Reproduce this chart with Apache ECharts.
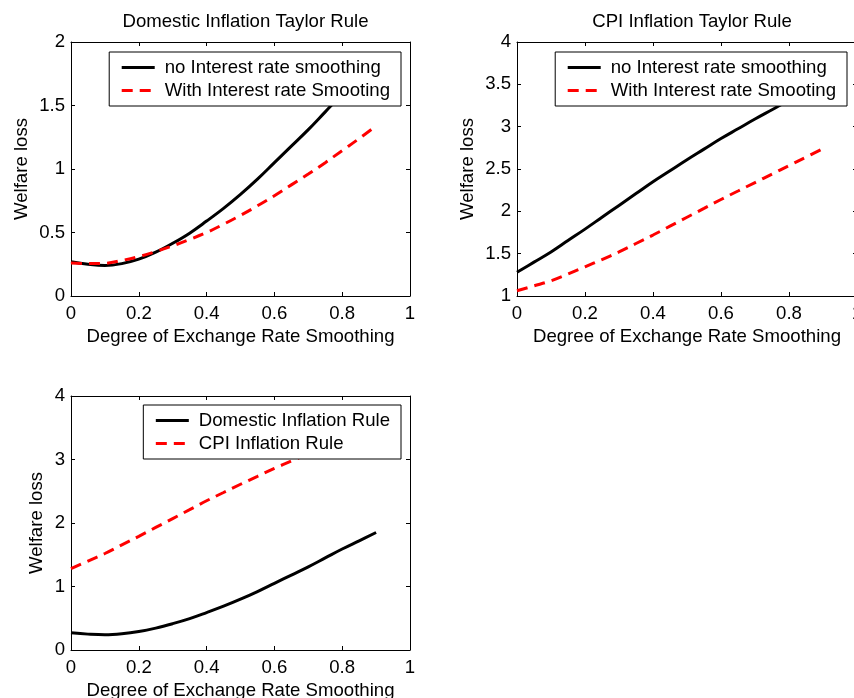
<!DOCTYPE html>
<html>
<head>
<meta charset="utf-8">
<script src="https://cdn.jsdelivr.net/npm/echarts@6/dist/echarts.min.js"></script>
<style>
html,body{margin:0;padding:0;background:#fff;}
#chart{width:854px;height:698px;}
</style>
</head>
<body>
<div id="chart"></div>
<script>
// ---- data ----
var xDegree = [0, 0.05, 0.1, 0.15, 0.2, 0.25, 0.3, 0.35, 0.4, 0.45, 0.5, 0.55, 0.6, 0.65, 0.7, 0.75, 0.8, 0.85, 0.9];
var domesticNoSmooth = [0.27, 0.25, 0.240, 0.255, 0.29, 0.345, 0.415, 0.495, 0.59, 0.69, 0.80, 0.92, 1.05, 1.18, 1.31, 1.45, 1.59, 1.72, 1.85];
var domesticSmooth   = [0.26, 0.255, 0.257, 0.28, 0.31, 0.35, 0.395, 0.445, 0.50, 0.565, 0.635, 0.71, 0.79, 0.875, 0.96, 1.05, 1.145, 1.24, 1.34];
var cpiNoSmooth      = [1.28, 1.40, 1.52, 1.655, 1.79, 1.93, 2.07, 2.21, 2.35, 2.48, 2.61, 2.735, 2.86, 2.975, 3.09, 3.20, 3.31, 3.415, 3.52];
var cpiSmooth        = [1.062, 1.12, 1.18, 1.26, 1.345, 1.43, 1.52, 1.62, 1.72, 1.825, 1.93, 2.035, 2.14, 2.24, 2.34, 2.44, 2.54, 2.64, 2.74];

var xTicks = [0, 0.2, 0.4, 0.6, 0.8, 1];
var yTicksDomestic = [0, 0.5, 1, 1.5, 2];
var yTicksCpi = [1, 1.5, 2, 2.5, 3, 3.5, 4];
var yTicksCompare = [0, 1, 2, 3, 4];

var titles = ['Domestic Inflation Taylor Rule', 'CPI Inflation Taylor Rule'];
var legendSmoothing = ['no Interest rate smoothing', 'With Interest rate Smooting'];
var legendCompare = ['Domestic Inflation Rule', 'CPI Inflation Rule'];
var xName = 'Degree of Exchange Rate Smoothing';
var yName = 'Welfare loss';

// ---- helpers ----
var FONT = "'Liberation Sans', Arial, Helvetica, sans-serif";
var FS = 18.6;
function pairs(xs, ys){ return xs.map(function(x,i){ return [x, ys[i]]; }); }
function tickRange(t){ return {min:t[0], max:t[t.length-1], interval:t[1]-t[0]}; }

var grids = [
  {left:71, top:42, width:339, height:254, containLabel:false, outerBoundsMode:'none'},
  {left:517, top:42, width:340, height:254, containLabel:false, outerBoundsMode:'none'},
  {left:71, top:396, width:339, height:254, containLabel:false, outerBoundsMode:'none'}
];
var yTickSets = [yTicksDomestic, yTicksCpi, yTicksCompare];
var yNameGaps = [40, 40, 25];

var xAxes = [], yAxes = [];
grids.forEach(function(g, i){
  var xr = tickRange(xTicks), yr = tickRange(yTickSets[i]);
  var common = {
    axisLine:{show:true, onZero:false, lineStyle:{color:'#000', width:1}},
    axisTick:{show:true, inside:true, length:4, lineStyle:{color:'#000', width:1}},
    splitLine:{show:false}
  };
  xAxes.push(Object.assign({
    type:'value', gridIndex:i, position:'bottom', min:xr.min, max:xr.max, interval:xr.interval,
    name:xName, nameLocation:'middle', nameGap:31,
    nameTextStyle:{fontSize:FS, color:'#000', fontFamily:FONT},
    axisLabel:{fontSize:FS, color:'#000', fontFamily:FONT, margin:8}
  }, common));
  xAxes.push(Object.assign({
    type:'value', gridIndex:i, position:'top', min:xr.min, max:xr.max, interval:xr.interval,
    axisLabel:{show:false}
  }, common));
  yAxes.push(Object.assign({
    type:'value', gridIndex:i, position:'left', min:yr.min, max:yr.max, interval:yr.interval,
    name:yName, nameLocation:'middle', nameGap:yNameGaps[i],
    nameTextStyle:{fontSize:FS, color:'#000', fontFamily:FONT},
    axisLabel:{fontSize:FS, color:'#000', fontFamily:FONT, margin:6}
  }, common));
  yAxes.push(Object.assign({
    type:'value', gridIndex:i, position:'right', min:yr.min, max:yr.max, interval:yr.interval,
    axisLabel:{show:false}
  }, common));
});

function lineSeries(name, data, gi, color, dashed){
  return {
    type:'line', name:name, data:data, xAxisIndex:2*gi, yAxisIndex:2*gi,
    showSymbol:false, symbol:'none', smooth:0.4, z:2,
    lineStyle:{color:color, width:3, type: dashed ? [11,7] : 'solid'},
    itemStyle:{color:color}
  };
}

var series = [
  lineSeries(legendSmoothing[0], pairs(xDegree, domesticNoSmooth), 0, '#000', false),
  lineSeries(legendSmoothing[1], pairs(xDegree, domesticSmooth), 0, '#ff0000', true),
  lineSeries(legendSmoothing[0], pairs(xDegree, cpiNoSmooth), 1, '#000', false),
  lineSeries(legendSmoothing[1], pairs(xDegree, cpiSmooth), 1, '#ff0000', true),
  lineSeries(legendCompare[0], pairs(xDegree, domesticNoSmooth), 2, '#000', false),
  lineSeries(legendCompare[1], pairs(xDegree, cpiNoSmooth), 2, '#ff0000', true)
];

function legend(data, right, top){
  return {
    data:data, orient:'vertical', right:right, top:top, selectedMode:false,
    padding:[6,11,6,11], itemWidth:33, itemHeight:14, itemGap:4,
    borderColor:'#000', borderWidth:1, backgroundColor:'#fff', borderRadius:0,
    itemStyle:{opacity:0},
    lineStyle:{width:3},
    textStyle:{fontSize:FS, color:'#000', fontFamily:FONT, padding:[0,0,0,5]},
    z:10
  };
}

var option = {
  animation:false,
  backgroundColor:'#fff',
  title:[
    {text:titles[0], left:240.5, top:7, textAlign:'center', textStyle:{fontSize:FS, fontWeight:'normal', color:'#000', fontFamily:FONT}},
    {text:titles[1], left:687, top:7, textAlign:'center', textStyle:{fontSize:FS, fontWeight:'normal', color:'#000', fontFamily:FONT}}
  ],
  legend:[
    legend(legendSmoothing, 453, 52),
    legend(legendSmoothing, 7, 52),
    legend(legendCompare, 453, 405)
  ],
  grid:grids,
  xAxis:xAxes,
  yAxis:yAxes,
  series:series
};

var chart = echarts.init(document.getElementById('chart'), null, {renderer:'canvas'});
chart.setOption(option);
</script>
</body>
</html>
